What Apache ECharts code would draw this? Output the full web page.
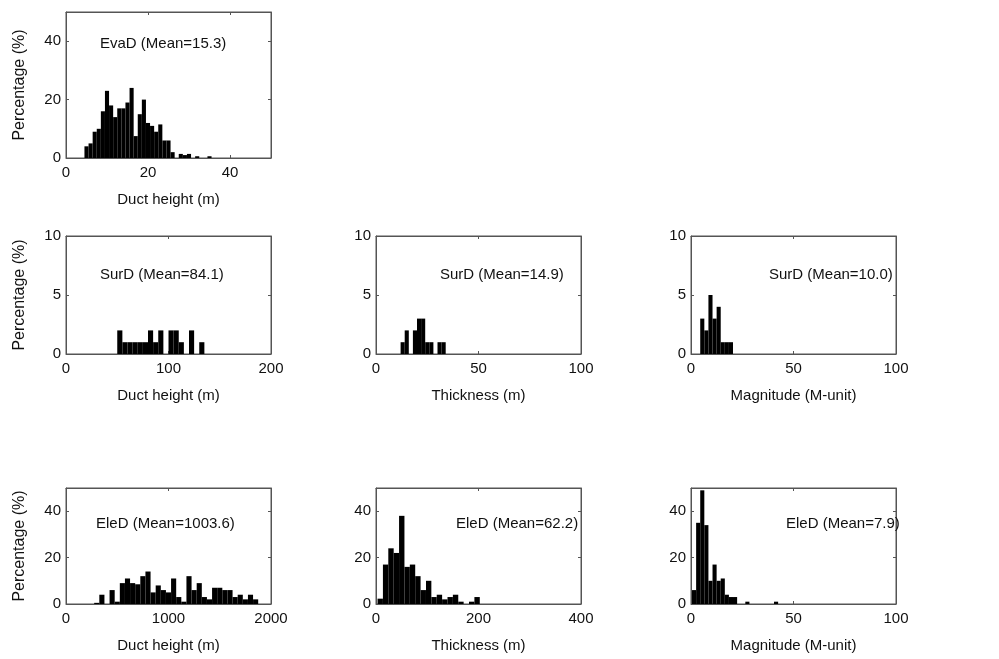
<!DOCTYPE html>
<html>
<head>
<meta charset="utf-8">
<script src="https://cdn.jsdelivr.net/npm/echarts@6/dist/echarts.min.js"></script>
<style>
  html, body { margin: 0; padding: 0; background: #fff; }
  #chart { width: 999px; height: 659px; }
</style>
</head>
<body>
<div id="chart"></div>
<script>
// bin layout: first edge, bin width, then percentage per bin
const evaHeightStart = 4.5, evaHeightWidth = 1;
const evaHeight = [4, 5, 9, 10, 16, 23, 18, 14, 17, 17, 19, 24, 7.5, 15, 20, 12, 11, 9, 11.5, 6, 6, 2, 0, 1.4, 1, 1.4, 0, 0.6, 0, 0, 0.6];

const surHeightStart = 50, surHeightWidth = 5;
const surHeight = [2, 1, 1, 1, 1, 1, 2, 1, 2, 0, 2, 2, 1, 0, 2, 0, 1];

const surThickStart = 12, surThickWidth = 2;
const surThick = [1, 2, 0, 2, 3, 3, 1, 1, 0, 1, 1];

const surMagStart = 4.5, surMagWidth = 2;
const surMag = [3, 2, 5, 3, 4, 1, 1, 1];

const eleHeightStart = 275, eleHeightWidth = 50;
const eleHeight = [0.5, 4, 0, 6, 1, 9, 11, 9, 8.5, 12, 14, 5, 8, 6, 5, 11, 3, 1, 12, 6, 9, 3, 2, 7, 7, 6, 6, 3, 4, 2, 4, 2];

const eleThickStart = 3, eleThickWidth = 10.5;
const eleThick = [2.3, 17, 24, 22, 38, 16, 17, 12, 6, 10, 3, 4, 2, 3, 4, 1, 0, 1, 3];

const eleMagStart = 0.5, eleMagWidth = 2;
const eleMag = [6, 35, 49, 34, 10, 17, 10, 11, 4, 3, 3, 0, 0, 1, 0, 0, 0, 0, 0, 0, 1];

const titles = ['EvaD (Mean=15.3)', 'SurD (Mean=84.1)', 'SurD (Mean=14.9)', 'SurD (Mean=10.0)',
                'EleD (Mean=1003.6)', 'EleD (Mean=62.2)', 'EleD (Mean=7.9)'];
const xNames = ['Duct height (m)', 'Duct height (m)', 'Thickness (m)', 'Magnitude (M-unit)',
                'Duct height (m)', 'Thickness (m)', 'Magnitude (M-unit)'];

const FONT = '"Liberation Sans", Arial, sans-serif';

// panel geometry + axis ranges
const panels = [
  {start: evaHeightStart, width: evaHeightWidth, vals: evaHeight, left: 66, top: 12, h: 146, xmax: 50, xint: 20, ymax: 50, yint: 20, tl: 100, tt: 36},
  {start: surHeightStart, width: surHeightWidth, vals: surHeight, left: 66, top: 236, h: 118, xmax: 200, xint: 100, ymax: 10, yint: 5, tl: 100, tt: 267},
  {start: surThickStart, width: surThickWidth, vals: surThick, left: 376, top: 236, h: 118, xmax: 100, xint: 50, ymax: 10, yint: 5, tl: 440, tt: 267},
  {start: surMagStart, width: surMagWidth, vals: surMag, left: 691, top: 236, h: 118, xmax: 100, xint: 50, ymax: 10, yint: 5, tl: 769, tt: 267},
  {start: eleHeightStart, width: eleHeightWidth, vals: eleHeight, left: 66, top: 488, h: 116, xmax: 2000, xint: 1000, ymax: 50, yint: 20, tl: 96, tt: 516},
  {start: eleThickStart, width: eleThickWidth, vals: eleThick, left: 376, top: 488, h: 116, xmax: 400, xint: 200, ymax: 50, yint: 20, tl: 456, tt: 516},
  {start: eleMagStart, width: eleMagWidth, vals: eleMag, left: 691, top: 488, h: 116, xmax: 100, xint: 50, ymax: 50, yint: 20, tl: 786, tt: 516}
];

function renderBin(params, api) {
  const p0 = api.coord([api.value(0), api.value(2)]);
  const p1 = api.coord([api.value(1), 0]);
  return {
    type: 'rect',
    shape: {x: p0[0], y: p0[1], width: p1[0] - p0[0], height: p1[1] - p0[1]},
    style: {fill: '#000'}
  };
}

const grid = [], xAxis = [], yAxis = [], series = [], title = [];
const lineStyle = {color: '#555', width: 1};
const label = {color: '#111', fontFamily: FONT, fontSize: 15, formatter: v => String(v)};

panels.forEach((p, i) => {
  grid.push({left: p.left, top: p.top, width: 205, height: p.h, show: true, borderColor: '#555', borderWidth: 1});
  // bottom / left axes with labels
  xAxis.push({
    gridIndex: i, type: 'value', position: 'bottom', min: 0, max: p.xmax, interval: p.xint,
    name: xNames[i], nameLocation: 'middle', nameGap: 34,
    nameTextStyle: {color: '#111', fontFamily: FONT, fontSize: 15},
    axisLine: {onZero: false, lineStyle: lineStyle},
    axisTick: {inside: true, length: 3, lineStyle: lineStyle},
    axisLabel: Object.assign({margin: 7, showMaxLabel: p.xmax % p.xint === 0}, label),
    splitLine: {show: false}
  });
  yAxis.push({
    gridIndex: i, type: 'value', position: 'left', min: 0, max: p.ymax, interval: p.yint,
    name: p.left === 66 ? 'Percentage (%)' : '', nameLocation: 'middle', nameGap: 38, nameRotate: 90,
    nameTextStyle: {color: '#111', fontFamily: FONT, fontSize: 16},
    axisLine: {show: true, onZero: false, lineStyle: lineStyle},
    axisTick: {show: true, inside: true, length: 3, lineStyle: lineStyle},
    axisLabel: Object.assign({margin: 5, showMaxLabel: p.ymax % p.yint === 0}, label),
    splitLine: {show: false}
  });
  const data = [];
  p.vals.forEach((v, k) => {
    if (v > 0) data.push([p.start + k * p.width, p.start + (k + 1) * p.width, v]);
  });
  series.push({
    type: 'custom', xAxisIndex: i, yAxisIndex: i, renderItem: renderBin,
    encode: {x: [0, 1], y: 2}, data: data, silent: true
  });
  title.push({text: titles[i], left: p.tl, top: p.tt, padding: 0,
    textStyle: {color: '#111', fontFamily: FONT, fontSize: 15, fontWeight: 'normal'}});
});

// top / right tick-only axes to finish the box
panels.forEach((p, i) => {
  xAxis.push({
    gridIndex: i, type: 'value', position: 'top', min: 0, max: p.xmax, interval: p.xint,
    axisLine: {onZero: false, lineStyle: lineStyle}, axisTick: {inside: true, length: 3, lineStyle: lineStyle},
    axisLabel: {show: false}, splitLine: {show: false}
  });
  yAxis.push({
    gridIndex: i, type: 'value', position: 'right', min: 0, max: p.ymax, interval: p.yint,
    axisLine: {show: true, onZero: false, lineStyle: lineStyle}, axisTick: {show: true, inside: true, length: 3, lineStyle: lineStyle},
    axisLabel: {show: false}, splitLine: {show: false}
  });
});

const chart = echarts.init(document.getElementById('chart'));
chart.setOption({
  backgroundColor: '#fff',
  animation: false,
  title: title,
  grid: grid,
  xAxis: xAxis,
  yAxis: yAxis,
  series: series
});
</script>
</body>
</html>
